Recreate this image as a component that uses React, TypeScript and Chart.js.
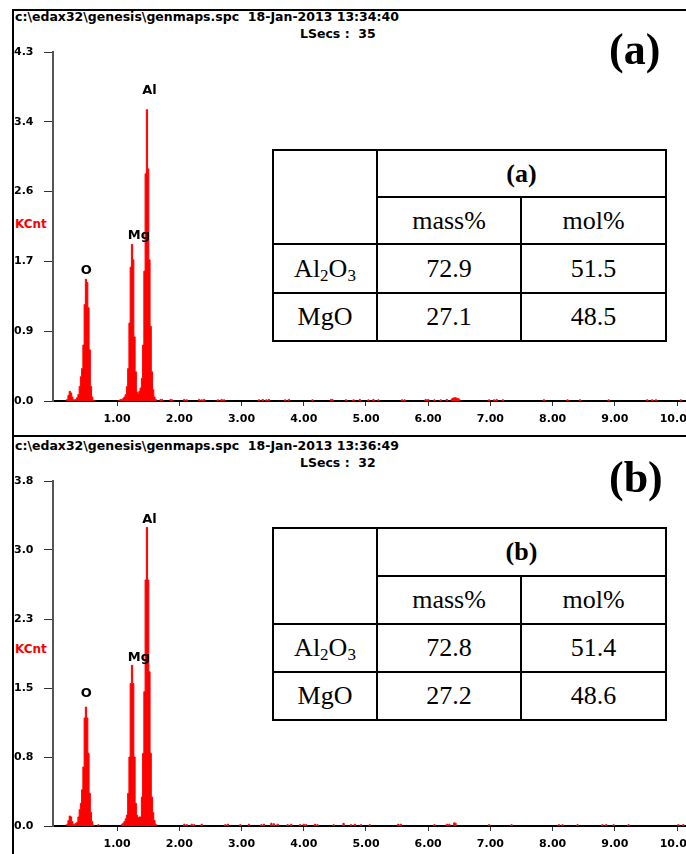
import React, { useEffect, useRef } from 'react';
import { Chart, registerables } from 'chart.js';

Chart.register(...registerables);

// ---------- data ----------
const FILE_PATH = 'c:\\edax32\\genesis\\genmaps.spc';
const timeA = '18-Jan-2013 13:34:40';
const timeB = '18-Jan-2013 13:36:49';
const lsecsA = 35;
const lsecsB = 32;

const xTickValues = [1, 2, 3, 4, 5, 6, 7, 8, 9, 10];
const xTickLabels = ['1.00', '2.00', '3.00', '4.00', '5.00', '6.00', '7.00', '8.00', '9.00', '10.00'];

const yTickValuesA = [0, 0.86, 1.72, 2.58, 3.44, 4.3];
const yTickLabelsA = ['0.0', '0.9', '1.7', '2.6', '3.4', '4.3'];
const yTickValuesB = [0, 0.76, 1.52, 2.28, 3.04, 3.8];
const yTickLabelsB = ['0.0', '0.8', '1.5', '2.3', '3.0', '3.8'];

// spectrum (a) : energy in keV, counts in KCnt
const peakEnergyA = [
  0.20, 0.22, 0.24, 0.26, 0.28, 0.30, 0.32, 0.34,
  0.36, 0.38, 0.40, 0.42, 0.44, 0.46, 0.48, 0.50, 0.52, 0.54, 0.56, 0.58, 0.60, 0.62,
  1.04, 1.06, 1.08, 1.10, 1.12, 1.14, 1.16, 1.18, 1.20, 1.22, 1.24, 1.26, 1.28, 1.30, 1.32, 1.34, 1.36,
  1.38, 1.40, 1.42, 1.44, 1.46, 1.48, 1.50, 1.52, 1.54, 1.56, 1.58, 1.60, 1.62,
];
const peakCountA = [
  0.02, 0.07, 0.12, 0.10, 0.05, 0.02, 0.01, 0.02,
  0.04, 0.08, 0.18, 0.30, 0.40, 0.69, 1.19, 1.50, 1.46, 1.15, 0.63, 0.18, 0.05, 0.01,
  0.01, 0.02, 0.02, 0.03, 0.05, 0.08, 0.18, 0.40, 0.96, 1.65, 1.93, 1.74, 0.79, 0.36, 0.11, 0.09, 0.12,
  0.16, 0.28, 0.69, 1.60, 2.80, 3.59, 2.86, 1.74, 0.92, 0.36, 0.14, 0.05, 0.02,
];
const noiseEnergyA = [
  1.70, 1.72, 1.86, 1.88, 2.08, 2.12, 2.32, 2.36, 2.40, 2.62, 2.68, 2.72, 3.28, 3.34, 3.40, 3.44,
  3.70, 3.76, 4.14, 4.44, 4.46, 4.68, 4.80, 4.90, 5.04, 5.12, 5.20, 5.58, 5.62, 5.96, 6.00, 6.10,
  6.20, 6.30, 6.38, 6.40, 6.42, 6.44, 6.46, 6.48, 6.50, 6.98, 7.06, 7.10, 7.20, 7.86, 8.24, 8.44,
  8.90, 9.52, 9.60, 9.66, 10.06,
];
const noiseCountA = [
  0.02, 0.02, 0.02, 0.015, 0.02, 0.015, 0.02, 0.015, 0.02, 0.015, 0.02, 0.015, 0.015, 0.02, 0.015, 0.02,
  0.015, 0.02, 0.015, 0.02, 0.02, 0.015, 0.015, 0.02, 0.015, 0.02, 0.015, 0.015, 0.015, 0.02, 0.02, 0.015,
  0.015, 0.02, 0.025, 0.035, 0.04, 0.04, 0.035, 0.03, 0.02, 0.015, 0.015, 0.02, 0.015, 0.015, 0.015, 0.015,
  0.015, 0.015, 0.015, 0.015, 0.015,
];

// spectrum (b)
const peakEnergyB = [
  0.20, 0.22, 0.24, 0.26, 0.28, 0.30, 0.32, 0.34,
  0.36, 0.38, 0.40, 0.42, 0.44, 0.46, 0.48, 0.50, 0.52, 0.54, 0.56, 0.58, 0.60, 0.62,
  1.08, 1.10, 1.12, 1.14, 1.16, 1.18, 1.20, 1.22, 1.24, 1.26, 1.28, 1.30, 1.32, 1.34, 1.36,
  1.38, 1.40, 1.42, 1.44, 1.46, 1.48, 1.50, 1.52, 1.54, 1.56, 1.58, 1.60, 1.62,
];
const peakCountB = [
  0.02, 0.06, 0.11, 0.10, 0.05, 0.02, 0.02, 0.03,
  0.04, 0.10, 0.18, 0.25, 0.40, 0.65, 1.19, 1.31, 1.19, 0.80, 0.36, 0.15, 0.05, 0.01,
  0.02, 0.03, 0.05, 0.08, 0.12, 0.36, 0.76, 1.57, 1.77, 1.57, 0.76, 0.25, 0.12, 0.09, 0.10,
  0.10, 0.32, 0.80, 1.48, 2.71, 3.29, 2.71, 1.70, 0.80, 0.32, 0.15, 0.06, 0.02,
];
const noiseEnergyB = [
  0.70, 2.08, 2.12, 2.20, 2.24, 2.36, 2.74, 2.78, 2.98, 3.12, 3.32, 3.36, 3.48, 3.52, 3.58, 3.74,
  3.80, 3.94, 4.00, 4.04, 4.18, 4.22, 4.48, 4.64, 4.76, 4.82, 4.92, 5.06, 5.52, 5.56, 6.10, 6.30,
  6.34, 6.42, 6.44, 6.98, 7.34, 8.10, 8.16, 8.40, 8.80, 8.86, 8.98, 9.22, 10.02, 10.10,
];
const noiseCountB = [
  0.015, 0.02, 0.015, 0.02, 0.015, 0.02, 0.015, 0.02, 0.015, 0.02, 0.015, 0.02, 0.03, 0.025, 0.02, 0.015,
  0.02, 0.015, 0.02, 0.015, 0.02, 0.015, 0.015, 0.03, 0.015, 0.02, 0.015, 0.015, 0.02, 0.02, 0.015, 0.02,
  0.02, 0.035, 0.03, 0.015, 0.015, 0.015, 0.015, 0.015, 0.015, 0.015, 0.015, 0.015, 0.015, 0.015,
];

// peak labels
const peakNames = ['O', 'Mg', 'Al'];
const peakLabelEnergy = [0.506, 1.35, 1.52];
const peakLabelCountA = [1.61, 2.04, 3.82];
const peakLabelCountB = [1.46, 1.86, 3.38];

// composition tables
const compounds = ['Al2O3', 'MgO'];
const units = ['mass%', 'mol%'];
const tableA = [
  ['72.9', '51.5'],
  ['27.1', '48.5'],
];
const tableB = [
  ['72.8', '51.4'],
  ['27.2', '48.6'],
];

// ---------- helpers ----------
const STEP = 0.02;
function buildPoints(e1: number[], c1: number[], e2: number[], c2: number[]) {
  const all = e1.map((e, i) => ({ e, c: c1[i] })).concat(e2.map((e, i) => ({ e, c: c2[i] })));
  all.sort((a, b) => a.e - b.e);
  const pts: { x: number; y: number }[] = [];
  let prev: number | null = null;
  for (const p of all) {
    if (prev === null) pts.push({ x: p.e - STEP, y: 0 });
    else if (p.e - prev > STEP * 1.5) {
      pts.push({ x: prev + STEP, y: 0 });
      pts.push({ x: p.e - STEP, y: 0 });
    }
    pts.push({ x: p.e, y: p.c });
    prev = p.e;
  }
  if (prev !== null) pts.push({ x: prev + STEP, y: 0 });
  return pts;
}

const SANS = '"DejaVu Sans", Verdana, sans-serif';
const SERIF = '"Liberation Serif", "Times New Roman", serif';
const RED = '#ff0000';

const peakLabelPlugin = {
  id: 'peakLabels',
  afterDatasetsDraw(chart: any, _args: any, opts: any) {
    const { ctx } = chart;
    const x = chart.scales.x;
    const y = chart.scales.y;
    ctx.save();
    ctx.font = 'bold 13px ' + SANS;
    ctx.fillStyle = '#000';
    ctx.textAlign = 'center';
    ctx.textBaseline = 'middle';
    opts.names.forEach((n: string, i: number) => {
      ctx.fillText(n, x.getPixelForValue(opts.energies[i]), y.getPixelForValue(opts.counts[i]));
    });
    ctx.restore();
  },
};

type SpecProps = {
  top: number;
  height: number;
  chartTop: number;
  xAxisH: number;
  xPad: number;
  yMax: number;
  yTickValues: number[];
  yTickLabels: string[];
  points: { x: number; y: number }[];
  labelCounts: number[];
};

function Spectrum(p: SpecProps) {
  const ref = useRef<HTMLCanvasElement | null>(null);
  useEffect(() => {
    if (!ref.current) return;
    const chart = new Chart(ref.current, {
      type: 'line',
      data: {
        datasets: [
          {
            data: p.points,
            stepped: 'middle',
            fill: 'origin',
            backgroundColor: RED,
            borderColor: RED,
            borderWidth: 1,
            pointRadius: 0,
            segment: {
              borderColor: (c: any) =>
                c.p0.parsed.y === 0 && c.p1.parsed.y === 0 ? 'rgba(0,0,0,0)' : RED,
            },
          } as any,
        ],
      },
      options: {
        animation: false,
        responsive: false,
        maintainAspectRatio: false,
        layout: { padding: { left: 14, top: p.chartTop, right: 0, bottom: 0 } },
        plugins: {
          legend: { display: false },
          tooltip: { enabled: false },
          peakLabels: { names: peakNames, energies: peakLabelEnergy, counts: p.labelCounts },
        } as any,
        scales: {
          x: {
            type: 'linear',
            min: -0.03,
            max: 10.69,
            afterBuildTicks: (s: any) => {
              s.ticks = xTickValues.map((v) => ({ value: v }));
            },
            afterFit: (s: any) => {
              s.height = p.xAxisH;
            },
            ticks: {
              autoSkip: false,
              maxRotation: 0,
              padding: p.xPad,
              color: '#000',
              font: { family: SANS, size: 11, weight: 'bold' },
              callback: (_v: any, i: number) => xTickLabels[i],
            },
            grid: { display: true, drawOnChartArea: false, drawTicks: true, tickLength: 5, color: '#333', lineWidth: 1 },
            border: { display: true, color: '#000', width: 2 },
          },
          y: {
            type: 'linear',
            min: 0,
            max: p.yMax,
            afterBuildTicks: (s: any) => {
              s.ticks = p.yTickValues.map((v) => ({ value: v }));
            },
            afterFit: (s: any) => {
              s.width = 39;
            },
            ticks: {
              crossAlign: 'far',
              color: '#000',
              font: { family: SANS, size: 11, weight: 'bold' },
              callback: (_v: any, i: number) => p.yTickLabels[i],
            },
            grid: { display: true, drawOnChartArea: false, drawTicks: true, tickLength: 9, color: '#333', lineWidth: 1 },
            border: { display: true, color: '#555', width: 2 },
          },
        } as any,
      },
      plugins: [peakLabelPlugin as any],
    });
    return () => chart.destroy();
  }, []);
  return (
    <canvas
      ref={ref}
      width={720}
      height={p.height}
      style={{ position: 'absolute', left: 0, top: p.top, width: 720, height: p.height }}
    />
  );
}

function Formula({ name }: { name: string }) {
  const parts = name.split(/(\d)/).filter((s) => s.length);
  return (
    <span>
      {parts.map((s, i) =>
        /\d/.test(s) ? (
          <span key={i} style={{ fontSize: 17, position: 'relative', top: 4 }}>
            {s}
          </span>
        ) : (
          <span key={i}>{s}</span>
        )
      )}
    </span>
  );
}

function Line({ x, y, w, h }: { x: number; y: number; w: number; h: number }) {
  return <div style={{ position: 'absolute', left: x, top: y, width: w, height: h, background: '#000' }} />;
}

function Cell({ x0, x1, y0, y1, children, bold }: any) {
  return (
    <div
      style={{
        position: 'absolute',
        left: x0,
        top: y0,
        width: x1 - x0,
        height: y1 - y0,
        display: 'flex',
        alignItems: 'center',
        justifyContent: 'center',
        fontFamily: SERIF,
        fontSize: 26,
        fontWeight: bold ? 'bold' : 'normal',
        color: '#000',
        whiteSpace: 'nowrap',
        lineHeight: 1,
      }}
    >
      {children}
    </div>
  );
}

function CompTable({ ys, title, values }: { ys: number[]; title: string; values: string[][] }) {
  const xs = [273, 377, 521, 666];
  const t = 2;
  return (
    <div>
      <div style={{ position: 'absolute', left: xs[0], top: ys[0], width: xs[3] - xs[0], height: ys[4] - ys[0], background: '#fff' }} />
      <Line x={xs[0] - 1} y={ys[0] - 1} w={xs[3] - xs[0] + t} h={t} />
      <Line x={xs[1] - 1} y={ys[1] - 1} w={xs[3] - xs[1] + t} h={t} />
      <Line x={xs[0] - 1} y={ys[2] - 1} w={xs[3] - xs[0] + t} h={t} />
      <Line x={xs[0] - 1} y={ys[3] - 1} w={xs[3] - xs[0] + t} h={t} />
      <Line x={xs[0] - 1} y={ys[4] - 1} w={xs[3] - xs[0] + t} h={t} />
      <Line x={xs[0] - 1} y={ys[0] - 1} w={t} h={ys[4] - ys[0] + t} />
      <Line x={xs[1] - 1} y={ys[0] - 1} w={t} h={ys[4] - ys[0] + t} />
      <Line x={xs[2] - 1} y={ys[1] - 1} w={t} h={ys[4] - ys[1] + t} />
      <Line x={xs[3] - 1} y={ys[0] - 1} w={t} h={ys[4] - ys[0] + t} />
      <Cell x0={xs[1]} x1={xs[3]} y0={ys[0]} y1={ys[1]} bold>
        {title}
      </Cell>
      <Cell x0={xs[1]} x1={xs[2]} y0={ys[1]} y1={ys[2]}>
        {units[0]}
      </Cell>
      <Cell x0={xs[2]} x1={xs[3]} y0={ys[1]} y1={ys[2]}>
        {units[1]}
      </Cell>
      {compounds.map((c, r) => (
        <React.Fragment key={c}>
          <Cell x0={xs[0]} x1={xs[1]} y0={ys[2 + r]} y1={ys[3 + r]}>
            <Formula name={c} />
          </Cell>
          <Cell x0={xs[1]} x1={xs[2]} y0={ys[2 + r]} y1={ys[3 + r]}>
            {values[r][0]}
          </Cell>
          <Cell x0={xs[2]} x1={xs[3]} y0={ys[2 + r]} y1={ys[3 + r]}>
            {values[r][1]}
          </Cell>
        </React.Fragment>
      ))}
    </div>
  );
}

function Text({ x, cy, size, color, children, bold = true, family = SANS }: any) {
  return (
    <div
      style={{
        position: 'absolute',
        left: x,
        top: cy - size * 0.6,
        height: size * 1.2,
        lineHeight: size * 1.2 + 'px',
        fontSize: size,
        fontFamily: family,
        fontWeight: bold ? 'bold' : 'normal',
        color,
        whiteSpace: 'pre',
      }}
    >
      {children}
    </div>
  );
}

export default function App() {
  const ptsA = buildPoints(peakEnergyA, peakCountA, noiseEnergyA, noiseCountA);
  const ptsB = buildPoints(peakEnergyB, peakCountB, noiseEnergyB, noiseCountB);
  return (
    <div
      style={{
        position: 'absolute',
        left: 0,
        top: 0,
        width: 686,
        height: 854,
        overflow: 'hidden',
        background: '#fff',
      }}
    >
      <Line x={12} y={9} w={674} h={2} />
      <Line x={12} y={9} w={2} h={845} />
      <Line x={12} y={435} w={674} h={2} />

      {/* panel (a) */}
      <Text x={15} cy={16.5} size={12.5} color="#000">{FILE_PATH + '  ' + timeA}</Text>
      <Text x={300} cy={33} size={12.5} color="#000">{'LSecs :  ' + lsecsA}</Text>
      <Text x={15} cy={224} size={12} color={RED}>KCnt</Text>
      <Spectrum
        top={0}
        height={436}
        chartTop={52}
        xAxisH={35}
        xPad={7}
        yMax={4.3}
        yTickValues={yTickValuesA}
        yTickLabels={yTickLabelsA}
        points={ptsA}
        labelCounts={peakLabelCountA}
      />
      <CompTable ys={[150, 197, 244, 293, 341]} title="(a)" values={tableA} />
      <Text x={609} cy={50} size={44} color="#000" family={SERIF}>(a)</Text>

      {/* panel (b) */}
      <Text x={15} cy={445.5} size={12.5} color="#000">{FILE_PATH + '  ' + timeB}</Text>
      <Text x={300} cy={462} size={12.5} color="#000">{'LSecs :  ' + lsecsB}</Text>
      <Text x={15} cy={649} size={12} color={RED}>KCnt</Text>
      <Spectrum
        top={437}
        height={417}
        chartTop={44}
        xAxisH={28}
        xPad={7}
        yMax={3.8}
        yTickValues={yTickValuesB}
        yTickLabels={yTickLabelsB}
        points={ptsB}
        labelCounts={peakLabelCountB}
      />
      <CompTable ys={[528, 576, 624, 672, 720]} title="(b)" values={tableB} />
      <Text x={609} cy={478} size={44} color="#000" family={SERIF}>(b)</Text>
    </div>
  );
}
